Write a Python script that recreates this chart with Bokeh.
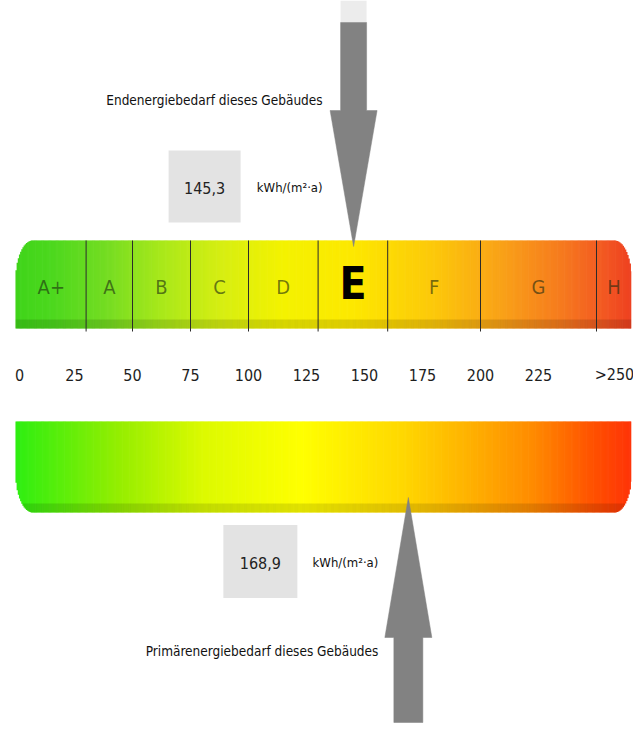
import numpy as np
from bokeh.plotting import figure
from bokeh.models import Range1d
from bokeh.core.properties import value
from bokeh.embed import file_html
from bokeh.resources import INLINE

# ---------------- data ----------------
class_labels = ["A+", "A", "B", "C", "D", "E", "F", "G", "H"]
class_bounds = [0, 30, 50, 75, 100, 130, 160, 200, 250, 265]
tick_values = [0, 25, 50, 75, 100, 125, 150, 175, 200, 225, 250]
tick_labels = ["0", "25", "50", "75", "100", "125", "150", "175", "200", "225", ">250"]
tick_offsets = [3, 0, 0, 0, 0, 0, 0, 0, 0, 0, 18]
end_energy = 145.3
primary_energy = 168.9
unit_label = "kWh/(m²·a)"
end_title = "Endenergiebedarf dieses Gebäudes"
primary_title = "Primärenergiebedarf dieses Gebäudes"

# colour stops of the two gradient bars (style)
top_stop_v = [-1, 15, 40, 62, 88, 115, 145, 180, 210, 235, 255, 265]
top_stop_c = ["#3fd41a", "#4cd81e", "#77dd22", "#a8e81a", "#d6ee12", "#f4f200",
              "#fde800", "#fcc80a", "#f9a018", "#f67a1e", "#f25522", "#ee4020"]
bot_stop_v = [-1, 46, 81, 123, 166, 196, 222, 249, 265]
bot_stop_c = ["#2cee12", "#99ee00", "#ddfa00", "#ffff00", "#ffd800", "#ffb000",
              "#ff8c00", "#ff5000", "#ff3308"]

FONT = "'Liberation Sans Narrow', 'DejaVu Sans Condensed', Roboto, sans-serif"

# ---------------- layout ----------------
W, H = 633, 725
PX = 2.32                      # screen px per kWh unit
X0 = -16 / PX
X1 = X0 + W / PX
BAR_L, BAR_R = -0.45, class_bounds[-1]
TOP_BAR = (240, 328)
BOT_BAR = (421, 512)
RX, RY = 17 / PX, 40

p = figure(width=W, height=H, x_range=Range1d(X0, X1), y_range=Range1d(H, 0),
           output_backend="svg", toolbar_location=None,
           x_axis_location=None, y_axis_location=None, min_border=0)
p.grid.visible = False
p.outline_line_color = None
p.background_fill_color = "white"
p.border_fill_color = "white"


def hex_rgb(h):
    h = h.lstrip("#")
    return [int(h[i:i + 2], 16) for i in (0, 2, 4)]


def bar(yt, yb, round_top, stop_v, stop_c):
    step = 0.5
    lefts = np.arange(BAR_L, BAR_R, step)
    rights = np.minimum(lefts + step * 1.6, BAR_R)
    cen = lefts + step / 2
    rgb = np.array([hex_rgb(c) for c in stop_c], dtype=float)
    tops, bots, cols = [], [], []
    btop, bbot, bl, br = [], [], [], []
    for l, r, c in zip(lefts, rights, cen):
        d = min(c - BAR_L, BAR_R - c)
        if d < RX:
            t = 1 - d / RX
            inset = RY * (1 - np.sqrt(max(0.0, 1 - t * t)))
        else:
            inset = 0.0
        if round_top:
            a, b = yt + inset, yb
        else:
            a, b = yt, yb - inset
        tops.append(a)
        bots.append(b)
        col = [int(round(np.interp(c, stop_v, rgb[:, k]))) for k in range(3)]
        cols.append("#%02x%02x%02x" % tuple(col))
        # darker band along the lower edge
        ba, bb = max(a, yb - 9), b
        if bb > ba:
            btop.append(ba); bbot.append(bb); bl.append(l); br.append(r)
    p.quad(left=lefts, right=rights, top=tops, bottom=bots,
           fill_color=cols, line_color=None)
    p.quad(left=bl, right=br, top=btop, bottom=bbot,
           fill_color="black", fill_alpha=0.08, line_color=None)


bar(TOP_BAR[0], TOP_BAR[1], True, top_stop_v, top_stop_c)
bar(BOT_BAR[0], BOT_BAR[1], False, bot_stop_v, bot_stop_c)

# class dividers
inner = class_bounds[1:-1]
p.segment(x0=inner, y0=[TOP_BAR[0]] * len(inner), x1=inner, y1=[TOP_BAR[1] + 3] * len(inner),
          line_color="#2b2b2b", line_width=1)

# class letters
centers = [(class_bounds[i] + class_bounds[i + 1]) / 2 for i in range(len(class_labels))]
hi = next(i for i in range(len(class_labels))
          if class_bounds[i] <= end_energy < class_bounds[i + 1])
norm_x = [c for i, c in enumerate(centers) if i != hi]
norm_t = [l for i, l in enumerate(class_labels) if i != hi]
p.text(x=norm_x, y=[286] * len(norm_x), text=norm_t, text_align="center",
       text_baseline="middle", text_font=value(FONT), text_font_size="20px",
       text_color="#1a2a10", text_alpha=0.6)
p.text(x=[centers[hi]], y=[283], text=[class_labels[hi]], text_align="center",
       text_baseline="middle", text_font=value(FONT), text_font_size="44px",
       text_font_style="bold", text_color="black")

# scale numbers
p.text(x=tick_values, y=[374] * len(tick_values), text=tick_labels, x_offset=tick_offsets,
       text_align="center", text_baseline="middle", text_font=value(FONT),
       text_font_size="16px", text_color="#1e1e1e")


def fmt(v):
    return f"{v:.1f}".replace(".", ",")


def arrow(v, pts):
    xs = [v + dx / PX for dx, _ in pts]
    ys = [y for _, y in pts]
    p.patch(xs, ys, fill_color="#828282", line_color="#828282", line_width=0.5)


# top (end energy) arrow and labels
p.quad(left=[end_energy - 13 / PX], right=[end_energy + 13 / PX], top=[0], bottom=[22],
       fill_color="#ececec", line_color=None)
arrow(end_energy, [(-13, 22), (13, 22), (13, 110), (23.5, 110), (0, 246),
                   (-23.5, 110), (-13, 110)])
p.rect(x=[end_energy - 149 / PX], y=[186], width=[72], height=[72],
       width_units="screen", height_units="data", fill_color="#e3e3e3", line_color=None)
p.text(x=[end_energy], y=[187], text=[fmt(end_energy)], x_offset=-149,
       text_align="center", text_baseline="middle", text_font=value(FONT),
       text_font_size="16px", text_color="#222222")
p.text(x=[end_energy], y=[187], text=[unit_label], x_offset=-31,
       text_align="right", text_baseline="middle", text_font=value(FONT),
       text_font_size="13px", text_color="#111111")
p.text(x=[end_energy], y=[99], text=[end_title], x_offset=-31,
       text_align="right", text_baseline="middle", text_font=value(FONT),
       text_font_size="13.5px", text_color="#111111")

# bottom (primary energy) arrow and labels
arrow(primary_energy, [(-14.5, 722), (14.5, 722), (14.5, 637), (23.5, 637), (0, 497),
                       (-23.5, 637), (-14.5, 637)])
p.rect(x=[primary_energy - 148 / PX], y=[561], width=[74], height=[73],
       width_units="screen", height_units="data", fill_color="#e3e3e3", line_color=None)
p.text(x=[primary_energy], y=[562], text=[fmt(primary_energy)], x_offset=-148,
       text_align="center", text_baseline="middle", text_font=value(FONT),
       text_font_size="16px", text_color="#222222")
p.text(x=[primary_energy], y=[562], text=[unit_label], x_offset=-30,
       text_align="right", text_baseline="middle", text_font=value(FONT),
       text_font_size="13px", text_color="#111111")
p.text(x=[primary_energy], y=[650], text=[primary_title], x_offset=-30,
       text_align="right", text_baseline="middle", text_font=value(FONT),
       text_font_size="13.5px", text_color="#111111")

open("out.html", "w").write(file_html(p, INLINE))
